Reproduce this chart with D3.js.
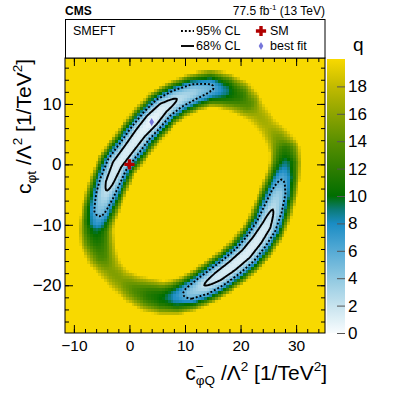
<!DOCTYPE html>
<html>
<head>
<meta charset="utf-8">
<script src="https://cdn.jsdelivr.net/npm/d3@7"></script>
<style>
  body { margin: 0; background: #fff; }
  text { font-family: "Liberation Sans", Arial, sans-serif; fill: #000; }
</style>
</head>
<body>
<svg id="chart" width="407" height="393"></svg>
<script>
// valley of the likelihood scan:
// centre line of the ring, minimum q along it, and its width (px per sqrt(q))
const ringX = [19.5, 17.0, 14.5, 11.5, 8.5, 6.0, 4.0, 2.0, 0.0, -2.2,
  -3.6, -4.4, -5.3, -5.8, -6.0, -5.8, -5.0, -3.5, -1.5, 1.0,
  3.5, 6.0, 8.5, 11.0, 13.5, 16.0, 18.5, 21.0, 23.0, 24.6,
  25.8, 26.8, 27.6, 28.1, 28.0, 26.8, 25.0, 23.0, 21.2];
const ringY = [11.4, 12.3, 12.7, 12.0, 10.8, 9.3, 7.3, 5.2, 2.7, 0.0,
  -3.0, -5.0, -7.5, -9.3, -10.8, -12.5, -15.0, -17.3, -19.2, -20.7,
  -21.6, -22.1, -21.9, -21.2, -20.0, -18.5, -16.8, -14.8, -12.5, -10.2,
  -7.5, -4.8, -2.2, 0.2, 2.2, 4.2, 6.3, 8.5, 10.2];
const ringQ = [11.5, 8.5, 5.5, 3.5, 2.3, 1.2, 0.5, 1.0, 1.2, 1.3,
  1.7, 2.6, 4.5, 7.0, 9.5, 11.0, 13.0, 15.5, 15.5, 13.5,
  11.5, 10.0, 7.5, 4.3, 2.3, 1.4, 1.2, 1.1, 1.2, 1.4,
  2.3, 3.8, 6.3, 9.0, 11.5, 15.0, 17.0, 16.5, 13.5];
const ringW = [6, 5.5, 5, 4.8, 4.8, 4.8, 4.8, 4.8, 4.8, 4.8,
  4.8, 4.8, 4.8, 5, 5.5, 6, 6, 6, 6, 6,
  6, 5.5, 5.2, 4.8, 4.8, 4.8, 4.8, 4.8, 4.8, 4.8,
  4.8, 4.8, 4.8, 5, 5.5, 6, 6, 6, 6];

const bestFit = [4.0, 7.0];
const smPoint = [0, 0];
const clLevels = [2.30, 5.99];   // 68% and 95% CL in 2D

const xTicks = [-10, 0, 10, 20, 30];
const yTicks = [-20, -10, 0, 10];
const qTicks = [0, 2, 4, 6, 8, 10, 12, 14, 16, 18];
const qStops = [0, 2, 4, 6, 8, 9, 10, 12, 14, 16, 18, 20];
const qColors = ["#f8fcfe", "#c6e3ee", "#8fc8e1", "#55aad5", "#1a8cc4", "#0b7b78",
  "#006e00", "#2e7d00", "#5a9000", "#8ea400", "#c2ba00", "#f8d900"];

const svg = d3.select("#chart");
const L = 65, R = 325, T = 58, B = 333;

const x = d3.scaleLinear().domain([-11.6, 35.2]).range([L, R]);
const y = d3.scaleLinear().domain([-27.9, 17.6]).range([B, T]);
const color = d3.scaleLinear().domain(qStops).range(qColors).clamp(true);

// ring points in pixel space
const rp = ringX.map((v, i) => [x(v), y(ringY[i])]);

function qAt(xd, yd) {
  const px = x(xd), py = y(yd);
  let best = Infinity;
  for (let i = 0; i < rp.length; i++) {
    const j = (i + 1) % rp.length;
    const [ax, ay] = rp[i], [bx, by] = rp[j];
    const vx = bx - ax, vy = by - ay;
    let t = ((px - ax) * vx + (py - ay) * vy) / (vx * vx + vy * vy);
    t = Math.max(0, Math.min(1, t));
    const dx = px - (ax + t * vx), dy = py - (ay + t * vy);
    const qm = ringQ[i] + t * (ringQ[j] - ringQ[i]);
    const w = ringW[i] + t * (ringW[j] - ringW[i]);
    const q = qm + (dx * dx + dy * dy) / (w * w);
    if (q < best) best = q;
  }
  return best;
}

svg.append("clipPath").attr("id", "plotclip")
  .append("rect").attr("x", L).attr("y", T).attr("width", R - L).attr("height", B - T);

// heat map cells
const step = 0.5;
const cells = [];
for (let xd = x.domain()[0]; xd < x.domain()[1]; xd += step) {
  for (let yd = y.domain()[0]; yd < y.domain()[1]; yd += step) {
    cells.push({ x0: xd, y0: yd, q: Math.min(qAt(xd + step / 2, yd + step / 2), 20) });
  }
}

const heat = svg.append("g").attr("clip-path", "url(#plotclip)");
heat.selectAll("rect")
  .data(cells)
  .join("rect")
  .attr("x", d => x(d.x0))
  .attr("y", d => y(d.y0 + step))
  .attr("width", d => x(d.x0 + step) - x(d.x0) + 0.4)
  .attr("height", d => y(d.y0) - y(d.y0 + step) + 0.4)
  .attr("fill", d => color(d.q))
  .attr("shape-rendering", "crispEdges");

// confidence contours on a finer grid
const cs = 0.2;
const x0 = x.domain()[0], y1 = y.domain()[1];
const nx = Math.ceil((x.domain()[1] - x0) / cs) + 1;
const ny = Math.ceil((y1 - y.domain()[0]) / cs) + 1;
const vals = new Array(nx * ny);
for (let j = 0; j < ny; j++) {
  for (let i = 0; i < nx; i++) vals[j * nx + i] = -qAt(x0 + i * cs, y1 - j * cs);
}
const contours = d3.contours().size([nx, ny]).thresholds(clLevels.map(v => -v))(vals);
const proj = d3.geoTransform({
  point(px, py) { this.stream.point(x(x0 + (px - 0.5) * cs), y(y1 - (py - 0.5) * cs)); }
});
const path = d3.geoPath(proj);

// 95% dotted
heat.append("path")
  .datum(contours.find(c => c.value === -clLevels[1]))
  .attr("d", path)
  .attr("fill", "none")
  .attr("stroke", "#000")
  .attr("stroke-width", 1.9)
  .attr("stroke-dasharray", "1.9 2");

// 68% solid
heat.append("path")
  .datum(contours.find(c => c.value === -clLevels[0]))
  .attr("d", path)
  .attr("fill", "none")
  .attr("stroke", "#000")
  .attr("stroke-width", 1.9);

// markers
const cross = d3.symbol(d3.symbolCross, 58);
const diamond = d3.symbol(d3.symbolDiamond, 19);
heat.append("path").attr("d", cross)
  .attr("transform", `translate(${x(smPoint[0])},${y(smPoint[1])})`)
  .attr("fill", "#b00000");
heat.append("path").attr("d", diamond)
  .attr("transform", `translate(${x(bestFit[0])},${y(bestFit[1])})`)
  .attr("fill", "#7676da");

// axes: ticks inside on all sides
function ticksRange(a, b, s) { return d3.range(Math.ceil(a / s) * s, b + 1e-9, s); }
const xMinor = ticksRange(-11.6, 35.2, 2);
const yMinor = ticksRange(-27.9, 17.6, 2);

function tidy(g) {
  g.select(".domain").remove();
  g.selectAll("line").attr("stroke", "#000");
}

svg.append("g").attr("transform", `translate(0,${B})`)
  .call(d3.axisBottom(x).tickValues(xTicks).tickSize(-8).tickPadding(7))
  .call(tidy)
  .selectAll("text").style("font-size", "15.5px").attr("font-family", "Liberation Sans, Arial");
svg.append("g").attr("transform", `translate(0,${B})`)
  .call(d3.axisBottom(x).tickValues(xMinor).tickSize(-4).tickFormat(""))
  .call(tidy);
svg.append("g").attr("transform", `translate(0,${T})`)
  .call(d3.axisTop(x).tickValues(xTicks).tickSize(-8).tickFormat(""))
  .call(tidy);
svg.append("g").attr("transform", `translate(0,${T})`)
  .call(d3.axisTop(x).tickValues(xMinor).tickSize(-4).tickFormat(""))
  .call(tidy);

svg.append("g").attr("transform", `translate(${L},0)`)
  .call(d3.axisLeft(y).tickValues(yTicks).tickSize(-8).tickPadding(3.5))
  .call(tidy)
  .selectAll("text").style("font-size", "17px").attr("font-family", "Liberation Sans, Arial");
svg.append("g").attr("transform", `translate(${L},0)`)
  .call(d3.axisLeft(y).tickValues(yMinor).tickSize(-4).tickFormat(""))
  .call(tidy);
svg.append("g").attr("transform", `translate(${R},0)`)
  .call(d3.axisRight(y).tickValues(yTicks).tickSize(-8).tickFormat(""))
  .call(tidy);
svg.append("g").attr("transform", `translate(${R},0)`)
  .call(d3.axisRight(y).tickValues(yMinor).tickSize(-4).tickFormat(""))
  .call(tidy);

// frame
svg.append("rect")
  .attr("x", L).attr("y", T).attr("width", R - L).attr("height", B - T)
  .attr("fill", "none").attr("stroke", "#000").attr("stroke-width", 1);

// colour bar
const CL = 327, CR = 345;
const yq = d3.scaleLinear().domain([0, 20]).range([B, T + 1]);
const grad = svg.append("defs").append("linearGradient")
  .attr("id", "qgrad").attr("x1", 0).attr("y1", 1).attr("x2", 0).attr("y2", 0);
d3.range(0, 20.01, 0.5).forEach(v => {
  grad.append("stop").attr("offset", v / 20).attr("stop-color", color(v));
});
svg.append("rect")
  .attr("x", CL).attr("y", yq(20)).attr("width", CR - CL).attr("height", yq(0) - yq(20))
  .attr("fill", "url(#qgrad)");
svg.append("g").attr("transform", `translate(${CR},0)`)
  .call(d3.axisRight(yq).tickValues(qTicks).tickSize(-8).tickPadding(3))
  .call(g => g.select(".domain").remove())
  .call(g => g.selectAll("line").attr("stroke", "#555"))
  .selectAll("text").style("font-size", "17px").attr("font-family", "Liberation Sans, Arial");
svg.append("text").attr("x", 353).attr("y", 51).style("font-size", "19px").text("q");

// axis titles
const xt = svg.append("text").attr("x", 327).attr("y", 380)
  .attr("text-anchor", "end").style("font-size", "21px");
xt.append("tspan").text("c");
xt.append("tspan").style("font-size", "13.5px").attr("dy", -9).text("\u2212");
xt.append("tspan").style("font-size", "13.5px").attr("dx", -7.9).attr("dy", 14).text("\u03c6Q");
xt.append("tspan").attr("dy", -5).text(" /\u039b");
xt.append("tspan").style("font-size", "13.5px").attr("dy", -9).text("2");
xt.append("tspan").attr("dy", 9).text(" [1/TeV");
xt.append("tspan").style("font-size", "13.5px").attr("dy", -9).text("2");
xt.append("tspan").attr("dy", 9).text("]");

const yt = svg.append("text")
  .attr("transform", "translate(31,59) rotate(-90)")
  .attr("text-anchor", "end").style("font-size", "21px");
yt.append("tspan").text("c");
yt.append("tspan").style("font-size", "13.5px").attr("dy", 5).text("\u03c6t");
yt.append("tspan").attr("dy", -5).text(" /\u039b");
yt.append("tspan").style("font-size", "13.5px").attr("dy", -9).text("2");
yt.append("tspan").attr("dy", 9).text(" [1/TeV");
yt.append("tspan").style("font-size", "13.5px").attr("dy", -9).text("2");
yt.append("tspan").attr("dy", 9).text("]");

// header
svg.append("text").attr("x", 65).attr("y", 15)
  .style("font-size", "12px").style("font-weight", "bold").text("CMS");
const lumi = svg.append("text").attr("x", 325).attr("y", 15)
  .attr("text-anchor", "end").style("font-size", "12px");
lumi.append("tspan").text("77.5 fb");
lumi.append("tspan").style("font-size", "8px").attr("dy", -5).text("-1");
lumi.append("tspan").attr("dy", 5).text(" (13 TeV)");

// legend box
svg.append("rect").attr("x", 65.5).attr("y", 19.5).attr("width", 259.5).attr("height", 38.5)
  .attr("fill", "#fff").attr("stroke", "#000");
svg.append("text").attr("x", 73).attr("y", 35).style("font-size", "12.5px").text("SMEFT");
svg.append("line").attr("x1", 181).attr("x2", 194).attr("y1", 31).attr("y2", 31)
  .attr("stroke", "#000").attr("stroke-width", 1.9).attr("stroke-dasharray", "1.9 2");
svg.append("text").attr("x", 196).attr("y", 35).style("font-size", "12.5px").text("95% CL");
svg.append("line").attr("x1", 181).attr("x2", 194).attr("y1", 46).attr("y2", 46)
  .attr("stroke", "#000").attr("stroke-width", 1.9);
svg.append("text").attr("x", 196).attr("y", 49.5).style("font-size", "12.5px").text("68% CL");
svg.append("path").attr("d", cross).attr("transform", "translate(261,31)").attr("fill", "#b00000");
svg.append("text").attr("x", 270).attr("y", 35).style("font-size", "12.5px").text("SM");
svg.append("path").attr("d", diamond).attr("transform", "translate(261,46)").attr("fill", "#7676da");
svg.append("text").attr("x", 270).attr("y", 49.5).style("font-size", "12.5px").text("best fit");
</script>
</body>
</html>
